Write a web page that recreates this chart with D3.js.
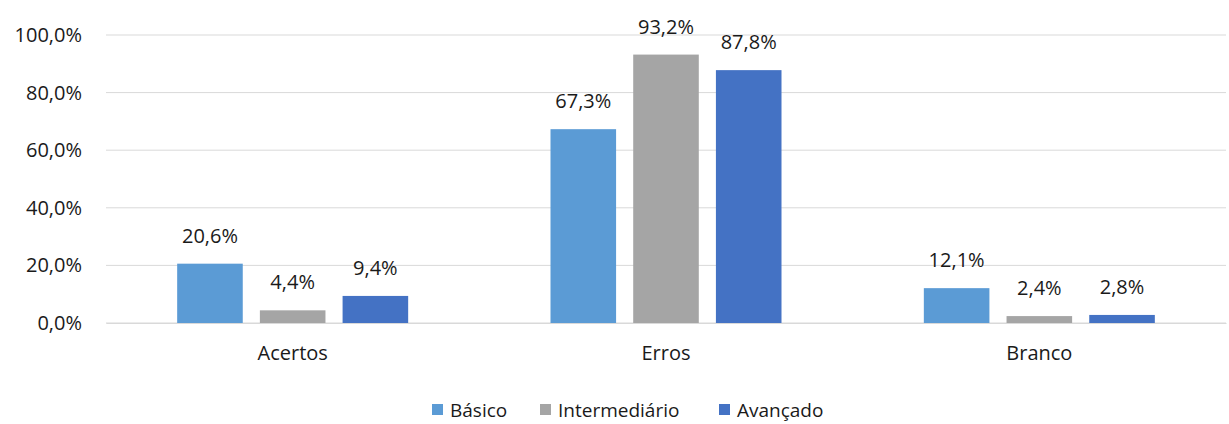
<!DOCTYPE html>
<html>
<head>
<meta charset="utf-8">
<script src="https://cdn.jsdelivr.net/npm/d3@7"></script>
<style>
	body { margin: 0; background: #fff; }
	text { font-family: "Open Sans", "Noto Sans", sans-serif; fill: #1a1a1a; }
</style>
</head>
<body>
<div id="chart"></div>
<script>
const categories = ['Acertos', 'Erros', 'Branco'];
const seriesNames = ['Básico', 'Intermediário', 'Avançado'];
const basico = [20.6, 67.3, 12.1];
const intermediario = [4.4, 93.2, 2.4];
const avancado = [9.4, 87.8, 2.8];
const yTicks = [0, 20, 40, 60, 80, 100];
const colors = ['#5B9BD5', '#A5A5A5', '#4472C4'];

let svgWidth = 1229
let svgHeight = 424
let fontSize = '20px'
let padding = { 'left': 106, 'right': 3, 'top': 35, 'bottom': 101 }

let svg = d3.select('#chart').append('svg')
	.attr('width', svgWidth)
	.attr('height', svgHeight)

let values = [basico, intermediario, avancado];
let data = categories.map((c, i) => ({
	cat: c,
	vals: seriesNames.map((s, j) => ({ key: s, idx: j, v: values[j][i] }))
}));

let x = d3.scaleBand()
	.domain(categories)
	.range([padding.left, svgWidth - padding.right]);
let inner = d3.scaleBand()
	.domain(seriesNames)
	.range([0, 231])
	.paddingInner(0.207);
let y = d3.scaleLinear()
	.domain([0, 100])
	.range([svgHeight - padding.bottom, padding.top]);

let fmt = v => v.toFixed(1).replace('.', ',') + '%';

// grid
svg.append('g')
	.selectAll('line')
	.data(yTicks)
	.enter()
	.append('line')
	.attr('x1', padding.left)
	.attr('x2', svgWidth - padding.right)
	.attr('y1', d => y(d))
	.attr('y2', d => y(d))
	.attr('stroke', '#D9D9D9')
	.attr('stroke-width', 1)

let axis_y = d3.axisLeft(y)
	.tickValues(yTicks)
	.tickSize(0)
	.tickPadding(24)
	.tickFormat(fmt);
svg.append('g')
	.attr('transform', `translate(${padding.left}, 0)`)
	.call(axis_y)
	.call(g => g.select('.domain').remove())
	.selectAll('text')
	.style('font-size', fontSize)
	.style('font-family', '"Open Sans", sans-serif')
	.attr('fill', '#1a1a1a')

let axis_x = d3.axisBottom(x).tickSize(0).tickPadding(23);
svg.append('g')
	.attr('transform', `translate(0, ${y(0)})`)
	.call(axis_x)
	.call(g => g.select('.domain').attr('stroke', '#D9D9D9'))
	.selectAll('text')
	.style('font-size', fontSize)
	.style('font-family', '"Open Sans", sans-serif')
	.attr('fill', '#1a1a1a')

let groups = svg.selectAll('.grp')
	.data(data)
	.enter()
	.append('g')
	.attr('class', 'grp')
	.attr('transform', d => `translate(${x(d.cat) + x.bandwidth() / 2 - 115.5}, 0)`)

groups.selectAll('rect')
	.data(d => d.vals)
	.enter()
	.append('rect')
	.attr('x', d => inner(d.key))
	.attr('y', d => y(d.v))
	.attr('width', inner.bandwidth())
	.attr('height', d => y(0) - y(d.v))
	.attr('fill', d => colors[d.idx])

groups.selectAll('.lbl')
	.data(d => d.vals)
	.enter()
	.append('text')
	.attr('class', 'lbl')
	.attr('x', d => inner(d.key) + inner.bandwidth() / 2)
	.attr('y', d => y(d.v) - 21)
	.attr('text-anchor', 'middle')
	.style('font-size', fontSize)
	.text(d => fmt(d.v))

// legend
let legendX = [432, 540, 719];
let legend = svg.selectAll('.legend')
	.data(seriesNames)
	.enter()
	.append('g')
	.attr('class', 'legend')
	.attr('transform', (d, i) => `translate(${legendX[i]}, 404)`)

legend.append('rect')
	.attr('x', 0)
	.attr('y', 0)
	.attr('width', 11)
	.attr('height', 11)
	.attr('fill', (d, i) => colors[i])

legend.append('text')
	.attr('x', 18)
	.attr('y', 13)
	.style('font-size', '19px')
	.text(d => d)
</script>
</body>
</html>
